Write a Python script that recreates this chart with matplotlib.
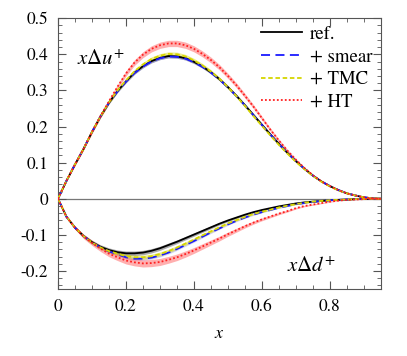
import numpy as np
import matplotlib
matplotlib.use("Agg")
import matplotlib.pyplot as plt

plt.rcParams['font.family'] = 'STIXGeneral'
plt.rcParams['mathtext.fontset'] = 'stix'
plt.rcParams['axes.unicode_minus'] = False

# x grid
x = np.array([0.0, 0.025, 0.05, 0.075, 0.1, 0.125, 0.15, 0.175, 0.2, 0.225,
              0.25, 0.275, 0.3, 0.325, 0.35, 0.375, 0.4, 0.425, 0.45, 0.475,
              0.5, 0.525, 0.55, 0.575, 0.6, 0.625, 0.65, 0.675, 0.7, 0.725,
              0.75, 0.775, 0.8, 0.825, 0.85, 0.875, 0.9, 0.925, 0.95])

# x Delta u+
u_ref = [0.0, 0.05, 0.095, 0.138, 0.185, 0.228, 0.266, 0.298, 0.325, 0.349,
         0.367, 0.381, 0.390, 0.395, 0.394, 0.389, 0.379, 0.366, 0.350, 0.331,
         0.309, 0.285, 0.259, 0.232, 0.205, 0.178, 0.152, 0.127, 0.104, 0.083,
         0.064, 0.048, 0.035, 0.024, 0.015, 0.009, 0.004, 0.001, 0.0]
u_smear = [0.0, 0.05, 0.095, 0.138, 0.185, 0.228, 0.266, 0.297, 0.324, 0.348,
           0.366, 0.380, 0.389, 0.394, 0.393, 0.388, 0.378, 0.365, 0.349, 0.330,
           0.308, 0.284, 0.258, 0.231, 0.204, 0.177, 0.151, 0.127, 0.104, 0.083,
           0.064, 0.048, 0.035, 0.024, 0.015, 0.009, 0.004, 0.001, 0.0]
u_tmc = [0.0, 0.05, 0.095, 0.138, 0.185, 0.228, 0.267, 0.300, 0.328, 0.353,
         0.372, 0.387, 0.396, 0.401, 0.400, 0.394, 0.383, 0.369, 0.352, 0.332,
         0.309, 0.284, 0.257, 0.229, 0.202, 0.175, 0.149, 0.125, 0.102, 0.082,
         0.063, 0.047, 0.034, 0.023, 0.015, 0.009, 0.004, 0.001, 0.0]
u_ht = [0.0, 0.05, 0.095, 0.138, 0.185, 0.229, 0.270, 0.310, 0.347, 0.377,
        0.399, 0.415, 0.425, 0.430, 0.430, 0.425, 0.415, 0.401, 0.384, 0.364,
        0.340, 0.314, 0.285, 0.255, 0.223, 0.191, 0.161, 0.133, 0.108, 0.085,
        0.065, 0.048, 0.035, 0.024, 0.015, 0.009, 0.004, 0.001, 0.0]

# x Delta d+
d_ref = [0.0, -0.05, -0.08, -0.103, -0.12, -0.133, -0.142, -0.148, -0.151, -0.151,
         -0.149, -0.144, -0.137, -0.128, -0.119, -0.109, -0.099, -0.089, -0.079, -0.069,
         -0.060, -0.052, -0.044, -0.037, -0.031, -0.026, -0.021, -0.017, -0.013, -0.010,
         -0.008, -0.006, -0.004, -0.003, -0.002, -0.001, -0.0005, 0.0, 0.0]
d_smear = [0.0, -0.05, -0.08, -0.103, -0.121, -0.135, -0.146, -0.154, -0.162, -0.166,
           -0.166, -0.163, -0.157, -0.149, -0.139, -0.128, -0.117, -0.105, -0.093, -0.082,
           -0.071, -0.061, -0.052, -0.044, -0.037, -0.031, -0.025, -0.020, -0.015, -0.012,
           -0.009, -0.006, -0.004, -0.003, -0.002, -0.001, -0.0005, 0.0, 0.0]
d_tmc = [0.0, -0.05, -0.08, -0.103, -0.121, -0.135, -0.145, -0.152, -0.159, -0.162,
         -0.162, -0.159, -0.153, -0.145, -0.135, -0.124, -0.113, -0.101, -0.090, -0.079,
         -0.068, -0.059, -0.050, -0.042, -0.036, -0.030, -0.024, -0.019, -0.015, -0.011,
         -0.008, -0.006, -0.004, -0.003, -0.002, -0.001, -0.0005, 0.0, 0.0]
d_ht = [0.0, -0.05, -0.08, -0.104, -0.122, -0.138, -0.152, -0.162, -0.171, -0.176,
        -0.179, -0.178, -0.175, -0.169, -0.162, -0.153, -0.143, -0.132, -0.121, -0.110,
        -0.098, -0.087, -0.076, -0.066, -0.057, -0.049, -0.041, -0.034, -0.026, -0.020,
        -0.016, -0.012, -0.008, -0.005, -0.003, -0.002, -0.001, 0.0, 0.0]

labels = ['ref.', '+ smear', '+ TMC', '+ HT']
# relative band half-widths (u, d)
band_u = [0.010, 0.007, 0.012, 0.018]
band_d = [0.035, 0.020, 0.030, 0.050]

line_col = ['black', '#1a1aff', '#d6d600', '#ff2020']
band_col = ['#555555', '#8080ff', '#d8d800', '#ff6060']
band_alpha = [0.5, 0.35, 0.45, 0.5]
styles = ['-', (0, (5, 3)), (0, (2.5, 1.5)), (0, (1, 1.2))]

fig = plt.figure(figsize=(4.07, 3.56), dpi=100)
ax = fig.add_axes([0.1425, 0.188, 0.7935, 0.761])

ax.axhline(0, color='#777777', lw=0.9, zorder=1)

u_all = [u_ref, u_smear, u_tmc, u_ht]
d_all = [d_ref, d_smear, d_tmc, d_ht]
for i in range(4):
    for ys, rel in ((np.array(u_all[i]), band_u[i]), (np.array(d_all[i]), band_d[i])):
        e = np.abs(ys) * rel + 0.001 * (ys != 0)
        ax.fill_between(x, ys - e, ys + e, color=band_col[i], alpha=band_alpha[i],
                        lw=0, zorder=2)
for i in range(4):
    ax.plot(x, u_all[i], color=line_col[i], ls=styles[i], lw=1.3, zorder=3 + i,
            label=labels[i])
    ax.plot(x, d_all[i], color=line_col[i], ls=styles[i], lw=1.3, zorder=3 + i)

ax.set_xlim(0, 0.95)
ax.set_ylim(-0.25, 0.5)
ax.set_xticks([0, 0.2, 0.4, 0.6, 0.8])
ax.set_xticklabels(['0', '0.2', '0.4', '0.6', '0.8'])
ax.set_yticks([-0.2, -0.1, 0, 0.1, 0.2, 0.3, 0.4, 0.5])
ax.set_yticklabels(['-0.2', '-0.1', '0', '0.1', '0.2', '0.3', '0.4', '0.5'])
ax.set_xticks(np.arange(0, 0.951, 0.05), minor=True)
ax.set_yticks(np.arange(-0.24, 0.5, 0.02), minor=True)
ax.tick_params(which='both', direction='in', top=True, right=True, color='#555555')
ax.tick_params(which='major', length=6, labelsize=12.5, pad=7)
ax.tick_params(which='minor', length=3)
for s in ax.spines.values():
    s.set_color('#555555')

ax.set_xlabel('$x$', fontsize=13, labelpad=8)

ax.text(0.056, 0.383, r'$x\Delta u^{+}$', fontsize=15, va='center', ha='left')
ax.text(0.673, -0.188, r'$x\Delta d^{+}$', fontsize=15, va='center', ha='left')

ax.legend(loc='upper right', bbox_to_anchor=(1.025, 1.035), frameon=False, fontsize=13.5,
          handlelength=2.2, handletextpad=0.4, labelspacing=0.3, borderpad=0.4)

fig.savefig('out.png', dpi=100)
